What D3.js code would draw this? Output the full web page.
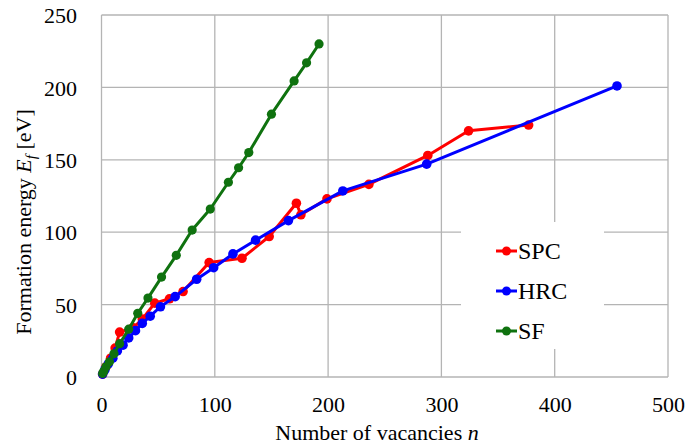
<!DOCTYPE html>
<html>
<head>
<meta charset="utf-8">
<script src="https://cdn.jsdelivr.net/npm/d3@7"></script>
<style>
  html, body { margin: 0; padding: 0; background: #fff; }
  svg { display: block; }
  text { font-family: "Liberation Serif", "Times New Roman", serif; fill: #000; }
</style>
</head>
<body>
<svg id="chart" width="694" height="445"></svg>
<script>
// ---- data ----
const spcN = [1, 4, 8, 12, 16, 28, 36, 47, 60, 72, 95, 124, 148, 172, 176, 199, 236, 288, 324, 377];
const spcE = [2, 7, 13, 20, 31, 34, 40, 51, 54, 59, 79, 82, 97, 120, 112, 123, 133, 153, 170, 174];

const hrcN = [1, 3, 6, 10, 14, 19, 24, 30, 36, 43, 52, 65, 84, 99, 116, 136, 165, 213, 287, 455];
const hrcE = [2, 5, 9, 13, 18, 22, 27, 32, 37, 42, 48.5, 55.5, 67.5, 75.5, 85, 94.5, 108, 128.5, 147, 201];

const sfN = [1, 2, 4, 7, 11, 16, 24, 32, 41, 53, 66, 80, 96, 112, 121, 130, 150, 170, 181, 192];
const sfE = [2.5, 4, 7, 10.5, 16, 23, 33, 44, 54.5, 69, 84, 101.5, 116, 134.5, 144.5, 155, 181.5, 204.5, 217, 230];

const seriesNames = ["SPC", "HRC", "SF"];
const xTicks = [0, 100, 200, 300, 400, 500];
const yTicks = [0, 50, 100, 150, 200, 250];

// ---- layout ----
const svg = d3.select("#chart");
const x = d3.scaleLinear().domain([0, 500]).range([101.5, 668]);
const y = d3.scaleLinear().domain([0, 250]).range([377, 15]);
const gridColor = "#b4b4b4";
const colors = { SPC: "#ff0000", HRC: "#0000ff", SF: "#0f720f" };

// gridlines
const grid = svg.append("g");
grid.selectAll("line.v").data(xTicks).join("line")
  .attr("x1", d => x(d)).attr("x2", d => x(d))
  .attr("y1", y(0)).attr("y2", y(250))
  .attr("stroke", gridColor).attr("stroke-width", 1.3);
grid.selectAll("line.h").data(yTicks).join("line")
  .attr("x1", x(0)).attr("x2", x(500))
  .attr("y1", d => y(d)).attr("y2", d => y(d))
  .attr("stroke", gridColor).attr("stroke-width", 1.3);

// axes tick labels
const xAxis = d3.axisBottom(x).tickValues(xTicks).tickSize(0).tickPadding(0);
const gx = svg.append("g").attr("transform", `translate(0,${y(0)})`).call(xAxis);
gx.select(".domain").remove();
gx.selectAll("text").attr("font-size", 22).attr("dy", null).attr("y", 35)
  .style("font-family", '"Liberation Serif", serif');

const yAxis = d3.axisLeft(y).tickValues(yTicks).tickSize(0).tickPadding(0);
const gy = svg.append("g").attr("transform", `translate(77,0)`).call(yAxis);
gy.select(".domain").remove();
gy.selectAll("text").attr("font-size", 22).attr("x", 0).attr("dy", "0.35em")
  .style("font-family", '"Liberation Serif", serif');

// axis titles
const xt = svg.append("text").attr("x", 377).attr("y", 440).attr("text-anchor", "middle").attr("font-size", 22);
xt.append("tspan").text("Number of vacancies ");
xt.append("tspan").attr("font-style", "italic").text("n");

const yt = svg.append("text").attr("transform", "translate(31,222) rotate(-90)")
  .attr("text-anchor", "middle").attr("font-size", 22);
yt.append("tspan").text("Formation energy ");
yt.append("tspan").attr("font-style", "italic").text("E");
yt.append("tspan").attr("font-style", "italic").attr("font-size", 15).attr("dy", 5).text("f");
yt.append("tspan").attr("dy", -5).text(" [eV]");

// series
const series = [
  { name: "SPC", pts: spcN.map((n, i) => [n, spcE[i]]) },
  { name: "HRC", pts: hrcN.map((n, i) => [n, hrcE[i]]) },
  { name: "SF",  pts: sfN.map((n, i) => [n, sfE[i]]) }
];
const line = d3.line().x(d => x(d[0])).y(d => y(d[1]));
series.forEach(s => {
  const g = svg.append("g");
  g.append("path").attr("d", line(s.pts)).attr("fill", "none")
    .attr("stroke", colors[s.name]).attr("stroke-width", 3).attr("stroke-linejoin", "round");
  g.selectAll("circle").data(s.pts).join("circle")
    .attr("cx", d => x(d[0])).attr("cy", d => y(d[1])).attr("r", s.name === "SF" ? 4.6 : 4.8)
    .attr("fill", colors[s.name]);
});

// legend
const lg = svg.append("g");
lg.append("rect").attr("x", 461).attr("y", 222).attr("width", 143).attr("height", 127).attr("fill", "#fff");
seriesNames.forEach((name, i) => {
  const cy = 251 + i * 40;
  lg.append("line").attr("x1", 496).attr("x2", 517).attr("y1", cy).attr("y2", cy)
    .attr("stroke", colors[name]).attr("stroke-width", 3);
  lg.append("circle").attr("cx", 506.5).attr("cy", cy).attr("r", 4.5).attr("fill", colors[name]);
  lg.append("text").attr("x", 518).attr("y", cy).attr("dy", "0.35em").attr("font-size", 24).text(name);
});
</script>
</body>
</html>
